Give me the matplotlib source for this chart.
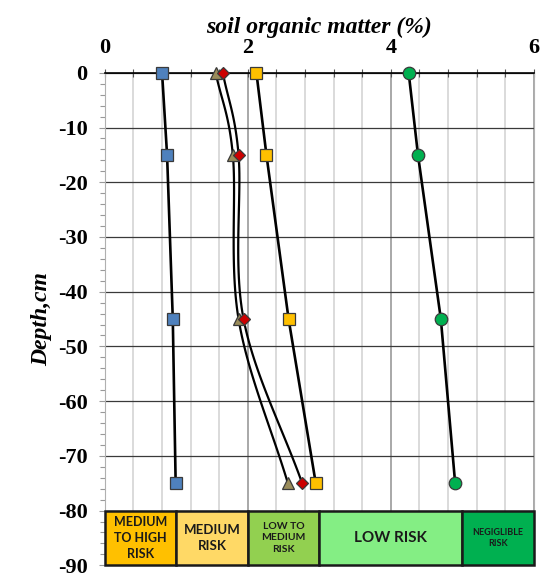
import numpy as np
import matplotlib.pyplot as plt
from matplotlib.patches import Rectangle
from matplotlib.ticker import MultipleLocator

plt.rcParams["axes.unicode_minus"] = False

# depth of each sample (cm)
depth = [0, -15, -45, -75]

# soil organic matter (%) for each profile
som_blue = [0.80, 0.87, 0.95, 0.99]
som_olive = [1.55, 1.79, 1.87, 2.56]
som_red = [1.65, 1.87, 1.94, 2.76]
som_yellow = [2.12, 2.26, 2.57, 2.95]
som_green = [4.25, 4.38, 4.70, 4.90]

# risk classes along the bottom strip
risk_edges = [0, 1, 2, 3, 5, 6]
risk_labels = ["MEDIUM\nTO HIGH\nRISK", "MEDIUM\nRISK", "LOW TO\nMEDIUM\nRISK",
               "LOW RISK", "NEGIGLIBLE\nRISK"]
risk_colors = ["#FFC000", "#FFD966", "#92D050", "#84EE84", "#00B050"]
risk_fsize = [9, 9.5, 7.5, 11, 6.5]


def smooth(x, y, n=30):
    # catmull-rom through the points, like a smoothed excel line
    p = np.column_stack([x, y]).astype(float)
    p = np.vstack([2 * p[0] - p[1], p, 2 * p[-1] - p[-2]])
    out = []
    for i in range(1, len(p) - 2):
        p0, p1, p2, p3 = p[i - 1], p[i], p[i + 1], p[i + 2]
        t = np.linspace(0, 1, n)[:, None]
        seg = 0.5 * ((2 * p1) + (-p0 + p2) * t + (2 * p0 - 5 * p1 + 4 * p2 - p3) * t ** 2
                     + (-p0 + 3 * p1 - 3 * p2 + p3) * t ** 3)
        out.append(seg)
    s = np.vstack(out)
    return s[:, 0], s[:, 1]


fig = plt.figure(figsize=(5.52, 5.78), dpi=100)
ax = fig.add_axes([0.190, 0.022, 0.777, 0.852])

ax.set_xlim(0, 6)
ax.set_ylim(-90, 0)

ax.xaxis.tick_top()
ax.xaxis.set_label_position("top")
ax.set_xticks([0, 2, 4, 6])
ax.xaxis.set_minor_locator(MultipleLocator(0.4))
ax.set_yticks(np.arange(0, -91, -10))
ax.yaxis.set_minor_locator(MultipleLocator(2))

ax.grid(which="minor", axis="x", color="#d4d4d4", lw=1.2)
ax.grid(which="major", axis="x", color="#a8a8a8", lw=1.4)
ax.grid(which="major", axis="y", color="#3a3a3a", lw=0.9)
ax.set_axisbelow(True)

ax.tick_params(axis="x", which="both", direction="inout", length=6, width=0.8,
               colors="#555555", pad=8)
ax.tick_params(axis="y", which="major", direction="out", length=4.5, width=0.8,
               colors="#999999", pad=8)
ax.tick_params(axis="y", which="minor", direction="out", length=3.5, width=0.8,
               colors="#999999")
for lab in ax.get_xticklabels() + ax.get_yticklabels():
    lab.set_fontfamily("Liberation Serif")
    lab.set_fontweight("bold")
    lab.set_fontsize(16)
    lab.set_color("black")

ax.spines["top"].set_color("black")
ax.spines["top"].set_linewidth(1.2)
for side in ["left", "right", "bottom"]:
    ax.spines[side].set_color("#b0b0b0")
ax.spines["bottom"].set_visible(False)

ax.set_xlabel("soil organic matter (%)", fontfamily="Liberation Serif",
              fontweight="bold", fontstyle="italic", fontsize=17, labelpad=3)
ax.set_ylabel("Depth,cm", fontfamily="Liberation Serif", fontweight="bold",
              fontstyle="italic", fontsize=17, labelpad=4)

# risk strip
for i, lab in enumerate(risk_labels):
    x0, x1 = risk_edges[i], risk_edges[i + 1]
    ax.add_patch(Rectangle((x0, -90), x1 - x0, 10, facecolor=risk_colors[i],
                           edgecolor="#1a1a1a", lw=1.8, zorder=3, clip_on=False))
    ax.text((x0 + x1) / 2, -85, lab, ha="center", va="center", fontsize=risk_fsize[i],
            fontfamily="Lato", fontweight="bold", color="#1a1a1a",
            linespacing=1.4, zorder=4)

mk = dict(markeredgecolor="#3a3a3a", markeredgewidth=0.9, zorder=6, clip_on=False)
lw = 1.9

ax.plot(som_blue, depth, color="black", lw=lw, zorder=5)
ax.plot(som_blue, depth, ls="none", marker="s", ms=8.5, markerfacecolor="#4F81BD", **mk)

sx, sy = smooth(som_olive, depth)
ax.plot(sx, sy, color="black", lw=1.6, zorder=5)
ax.plot(som_olive, depth, ls="none", marker="^", ms=8, markerfacecolor="#9A8C5A", **mk)

sx, sy = smooth(som_red, depth)
ax.plot(sx, sy, color="black", lw=1.6, zorder=5)
ax.plot(som_red, depth, ls="none", marker="D", ms=6, markerfacecolor="#CC0000", **mk)

ax.plot(som_yellow, depth, color="black", lw=lw, zorder=5)
ax.plot(som_yellow, depth, ls="none", marker="s", ms=9, markerfacecolor="#FFC000", **mk)

ax.plot(som_green, depth, color="black", lw=lw, zorder=5)
ax.plot(som_green, depth, ls="none", marker="o", ms=9, markerfacecolor="#00B050", **mk)

fig.savefig("out.png", dpi=100)
